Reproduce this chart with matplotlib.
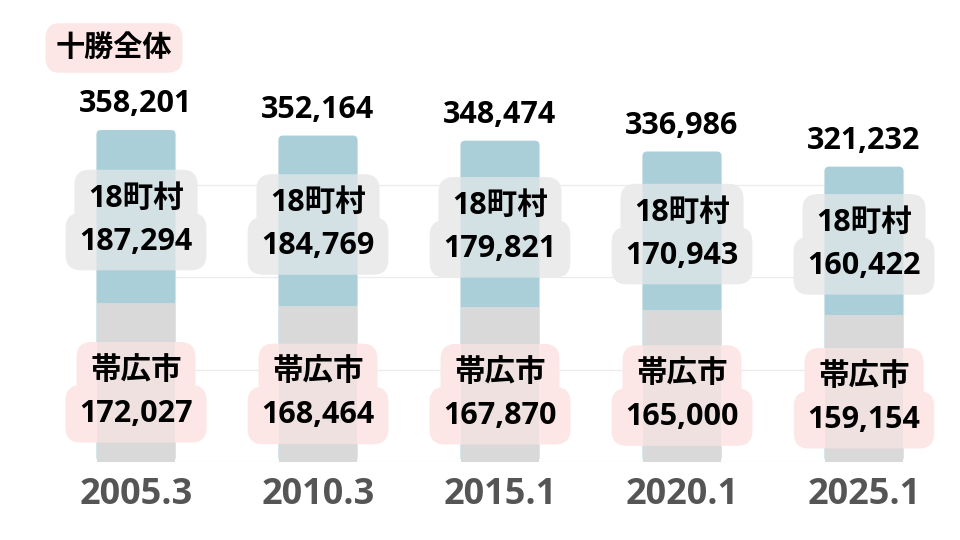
import numpy as np
import matplotlib
matplotlib.use("Agg")
import matplotlib.pyplot as plt
from matplotlib.patches import FancyBboxPatch

plt.rcParams['font.family'] = ['Open Sans', 'Noto Sans CJK JP', 'DejaVu Sans']

# data
years = ['2005.3', '2010.3', '2015.1', '2020.1', '2025.1']
obihiro = [172027, 168464, 167870, 165000, 159154]   # 帯広市
towns = [187294, 184769, 179821, 170943, 160422]     # 18町村
totals = [358201, 352164, 348474, 336986, 321232]    # 十勝全体

blue = '#aacfd8'
grey = '#d9d9d9'
grey_box = '#ebebeb'
pink_box = '#fde6e6'

fig = plt.figure(figsize=(9.6, 5.4), dpi=100)
ax_rect = [0, 78 / 540, 1, 462 / 540]
ax = fig.add_axes(ax_rect)
xlim = (-136 / 182, (960 - 136) / 182)
ylim = (0, 500000)
ax.set_xlim(xlim)
ax.set_ylim(ylim)

x = np.arange(len(years))
width = 0.434
obihiro = np.array(obihiro)
towns = np.array(towns)

# faint grid between first and last bar
for gy in [0, 100000, 200000, 300000]:
    ax.hlines(gy, x[0] - width / 2, x[-1] + width / 2, color='#ebebeb', lw=0.9, zorder=0)

# aspect so that the top corners round evenly in pixels
px_w = 960 * ax_rect[2]
px_h = 540 * ax_rect[3]
aspect = ((ylim[1] - ylim[0]) / px_h) / ((xlim[1] - xlim[0]) / px_w)


def draw_bars(alpha, z, full):
    for i in range(len(x)):
        # blue segment with rounded top; the solid one reaches down to 0 so
        # its lower corners hide behind the grey bar
        y0 = 0 if full else obihiro[i]
        ax.add_patch(FancyBboxPatch((x[i] - width / 2, y0), width, obihiro[i] + towns[i] - y0,
                                    boxstyle='round,pad=0,rounding_size=0.025',
                                    mutation_aspect=aspect, fc=blue, ec='none',
                                    alpha=alpha, zorder=z))
    ax.bar(x, obihiro, width, color=grey, alpha=alpha, zorder=z + 0.1)


draw_bars(1.0, 1, True)
# bars shine through the label boxes
draw_bars(0.35, 2.5, False)

fs = 22
box = 'round,pad=0.45,rounding_size=0.5'


def label(txt, xy, dy, fc):
    kw = dict(xytext=(0, dy), textcoords='offset points', ha='center',
              va='center_baseline', fontsize=fs, fontweight='bold')
    ax.annotate(txt, xy, color='none', zorder=2,
                bbox=dict(boxstyle=box, fc=fc, ec='none'), **kw)
    ax.annotate(txt, xy, zorder=3, **kw)


for i in range(len(x)):
    # 18町村 label (two stacked boxes)
    ym = obihiro[i] + towns[i] / 2
    label('18町村', (x[i], ym), 15.5, grey_box)
    label(f'{towns[i]:,}', (x[i], ym), -15.5, grey_box)
    # 帯広市 label
    yb = obihiro[i] / 2
    label('帯広市', (x[i], yb), 11, pink_box)
    label(f'{obihiro[i]:,}', (x[i], yb), -20, pink_box)
    # total above bar
    ax.annotate(f'{totals[i]:,}', (x[i], obihiro[i] + towns[i]), xytext=(0, 21),
                textcoords='offset points', ha='center', va='center_baseline',
                fontsize=fs, fontweight='bold', zorder=3)

ax.text(114 / 960, 1 - 48 / 540, '十勝全体', transform=fig.transFigure,
        ha='center', va='center', fontsize=21, fontweight='bold',
        bbox=dict(boxstyle='round,pad=0.35,rounding_size=0.5', fc=pink_box, ec='none'))

ax.set_xticks(x)
ax.set_xticklabels(years, fontsize=26, fontweight='bold', color='#555555')
ax.tick_params(axis='x', length=0, pad=11)
ax.set_yticks([])
for s in ax.spines.values():
    s.set_visible(False)

fig.savefig('out.png', dpi=100)
